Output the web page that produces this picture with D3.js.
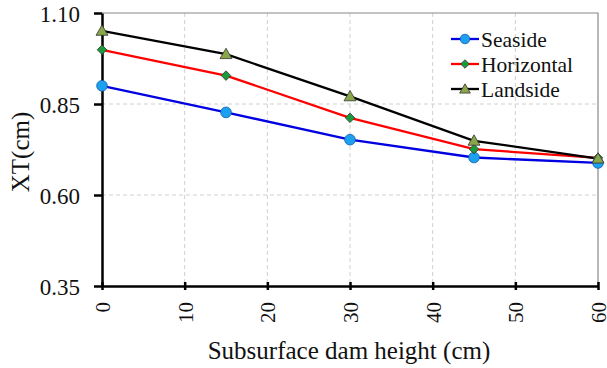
<!DOCTYPE html>
<html>
<head>
<meta charset="utf-8">
<script src="https://cdn.jsdelivr.net/npm/d3@7"></script>
</head>
<body style="margin:0;background:#fff">
<svg id="svg" width="607" height="368"></svg>
<script>
const heights = [0, 15, 30, 45, 60];
const seaside = [0.900, 0.827, 0.752, 0.703, 0.688];
const horizontal = [0.999, 0.928, 0.812, 0.726, 0.702];
const landside = [1.051, 0.987, 0.871, 0.749, 0.700];
const xTicks = [0, 10, 20, 30, 40, 50, 60];
const yTicks = [0.35, 0.60, 0.85, 1.10];

const series = [
  { name: "Seaside", values: seaside, line: "#0000e0", marker: "circle", fill: "#1ea0f0" },
  { name: "Horizontal", values: horizontal, line: "#ff0000", marker: "diamond", fill: "#1a9a3a" },
  { name: "Landside", values: landside, line: "#000000", marker: "triangle", fill: "#8aa64a" }
];

const FONT = "Liberation Serif";
const plotLeft = 102, plotRight = 598, plotTop = 13, plotBottom = 286;

let svg = d3.select("#svg");

let xScale = d3.scaleLinear([0, 60], [plotLeft, plotRight]);
let yScale = d3.scaleLinear([0.35, 1.10], [plotBottom, plotTop]);

// grid
svg.append("g")
  .selectAll("line")
  .data(xTicks.slice(1, -1))
  .join("line")
  .attr("x1", d => xScale(d)).attr("x2", d => xScale(d))
  .attr("y1", plotTop).attr("y2", plotBottom)
  .attr("stroke", "#d0d0d0").attr("stroke-dasharray", "4,3");

svg.append("g")
  .selectAll("line")
  .data(yTicks.slice(1, -1))
  .join("line")
  .attr("x1", plotLeft).attr("x2", plotRight)
  .attr("y1", d => yScale(d)).attr("y2", d => yScale(d))
  .attr("stroke", "#d0d0d0").attr("stroke-dasharray", "4,3");

// frame top/right
svg.append("path")
  .attr("d", `M${plotLeft},${plotTop}H${plotRight}V${plotBottom}`)
  .attr("fill", "none").attr("stroke", "#888").attr("stroke-width", 1.2);

// axes
let yAxis = svg.append("g")
  .attr("transform", `translate(${plotLeft},0)`)
  .call(d3.axisLeft(yScale).tickValues(yTicks).tickFormat(d3.format(".2f")).tickSizeInner(5).tickSizeOuter(0));
yAxis.attr("font-family", FONT).attr("font-size", 23);
yAxis.select(".domain").attr("stroke", "#000").attr("stroke-width", 2.5);
yAxis.selectAll(".tick line").attr("stroke", "#000").attr("stroke-width", 2.5).attr("x2", -8).attr("x1", 0);
yAxis.selectAll(".tick text").attr("x", -22).attr("dy", "0.35em").attr("fill", "#111");

let xAxis = svg.append("g")
  .attr("transform", `translate(0,${plotBottom})`)
  .call(d3.axisBottom(xScale).tickValues(xTicks).tickSizeInner(0).tickSizeOuter(0));
xAxis.attr("font-family", FONT).attr("font-size", 21);
xAxis.select(".domain").attr("stroke", "#000").attr("stroke-width", 2.5);
xAxis.selectAll(".tick line").attr("stroke", "#000").attr("stroke-width", 2.5).attr("y1", -4).attr("y2", 4);
xAxis.selectAll(".tick text")
  .attr("transform", "rotate(-90)")
  .attr("x", -16).attr("y", 0).attr("dy", "0.35em")
  .attr("text-anchor", "end")
  .attr("fill", "#111");

// titles
svg.append("text")
  .attr("transform", "translate(29,152) rotate(-90)")
  .attr("text-anchor", "middle")
  .attr("font-family", FONT).attr("font-size", 25).attr("fill", "#111")
  .text("XT(cm)");

svg.append("text")
  .attr("x", 349).attr("y", 359)
  .attr("text-anchor", "middle")
  .attr("font-family", FONT).attr("font-size", 25).attr("fill", "#111")
  .text("Subsurface dam height (cm)");

const symbolFor = (m, size) => {
  const type = m === "circle" ? d3.symbolCircle : m === "diamond" ? d3.symbolDiamond2 : d3.symbolTriangle;
  return d3.symbol().type(type).size(size)();
};
const sizeFor = m => m === "circle" ? 90 : m === "diamond" ? 58 : 62;

let lineFunc = d3.line()
  .x((d, i) => xScale(heights[i]))
  .y(d => yScale(d));

series.forEach(s => {
  svg.append("path")
    .datum(s.values)
    .attr("fill", "none")
    .attr("stroke", s.line)
    .attr("stroke-width", 2.3)
    .attr("d", lineFunc);
});

series.forEach(s => {
  svg.append("g")
    .selectAll("path")
    .data(s.values)
    .join("path")
    .attr("transform", (d, i) => `translate(${xScale(heights[i])},${yScale(d) + (s.marker === "triangle" ? 1 : 0)})`)
    .attr("d", symbolFor(s.marker, sizeFor(s.marker)))
    .attr("fill", s.fill)
    .attr("stroke", s.marker === "circle" ? "#1060b0" : "#333")
    .attr("stroke-width", 0.8);
});

// legend
let legend = svg.append("g");
series.forEach((s, i) => {
  let y = 39 + i * 25;
  legend.append("line")
    .attr("x1", 451).attr("x2", 479).attr("y1", y).attr("y2", y)
    .attr("stroke", s.line).attr("stroke-width", 2.3);
  legend.append("path")
    .attr("transform", `translate(465,${y + (s.marker === "triangle" ? 1 : 0)})`)
    .attr("d", symbolFor(s.marker, sizeFor(s.marker) * 0.8))
    .attr("fill", s.fill)
    .attr("stroke", s.marker === "circle" ? "#1060b0" : "#333")
    .attr("stroke-width", 0.8);
  legend.append("text")
    .attr("x", 481).attr("y", y).attr("dy", "0.35em")
    .attr("font-family", FONT).attr("font-size", 21.5).attr("fill", "#111")
    .text(s.name);
});
</script>
</body>
</html>
